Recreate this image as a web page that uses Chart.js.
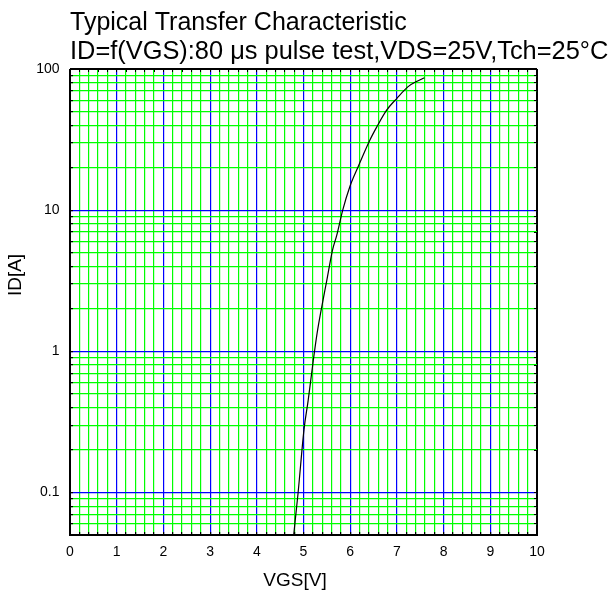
<!DOCTYPE html>
<html>
<head>
<meta charset="utf-8">
<script src="https://cdn.jsdelivr.net/npm/chart.js@4.4.1/dist/chart.umd.min.js"></script>
<style>
  body { margin: 0; background: #fff; }
  #box { width: 612px; height: 596px; }
</style>
</head>
<body>
<div id="box"><canvas id="grafico"></canvas></div>
<script>
// dados
const vgs = [4.79, 4.885, 5.01, 5.10, 5.21, 5.29, 5.39, 5.50, 5.62, 5.71, 5.84, 5.99, 6.17, 6.42, 6.57, 6.78, 7.00, 7.24, 7.42, 7.59];
const idA = [0.05, 0.1, 0.278, 0.449, 0.863, 1.335, 2.06, 3.19, 5.2, 6.6, 10.0, 14.6, 20.3, 31.3, 38.9, 51.1, 62, 75, 81.5, 86.6];

// textos
const titleLines = ['Typical Transfer Characteristic', 'ID=f(VGS):80 \u03bcs pulse test,VDS=25V,Tch=25\u00b0C'];
const xTitle = 'VGS[V]';
const yTitle = 'ID[A]';

// eixos
const xMin = 0, xMax = 10;
const xLabels = [0, 1, 2, 3, 4, 5, 6, 7, 8, 9, 10];
const yLabels = [0.1, 1, 10, 100];
const yDecadas = [0.01, 0.1, 1, 10];
const yMin = 0.05, yMax = 100;

// linhas da grade do eixo log
const yGrid = [];
for (const d of yDecadas) {
    for (let m = 1; m <= 9; m++) {
        const v = parseFloat((m * d).toPrecision(3));
        if (v >= yMin && v <= yMax) yGrid.push(v);
    }
}
yGrid.push(yMax);

const AZUL = 'rgb(0, 0, 255)';
const VERDE = 'rgb(0, 255, 0)';
const PRETO = '#000';
const FONTE = "'Liberation Sans', Arial, sans-serif";

function isInt(v) { return Math.abs(v - Math.round(v)) < 1e-6; }
function ehDecada(v) { return yLabels.some(d => Math.abs(v / d - 1) < 1e-6); }
function logTicks(scale) {
    scale.ticks = yGrid.map(v => ({ value: v, major: ehDecada(v) }));
}
function corX(c) {
    const v = c.tick.value;
    if (v <= xMin || v >= xMax) return PRETO;
    return isInt(v) ? AZUL : VERDE;
}
function corY(c) {
    const v = c.tick.value;
    if (v <= yMin || v >= yMax) return PRETO;
    return ehDecada(v) ? AZUL : VERDE;
}

// textos de titulo e eixos
const textos = {
    id: 'textos',
    afterDraw(chart) {
        const ctx = chart.ctx;
        const a = chart.chartArea;
        ctx.save();
        ctx.fillStyle = '#000';
        ctx.textBaseline = 'alphabetic';
        ctx.textAlign = 'left';
        ctx.font = '25px ' + FONTE;
        ctx.fillText(titleLines[0], a.left, a.top - 39);
        ctx.font = '25.4px ' + FONTE;
        ctx.fillText(titleLines[1], a.left, a.top - 10);
        ctx.font = '19px ' + FONTE;
        ctx.textAlign = 'center';
        ctx.textBaseline = 'middle';
        ctx.fillText(xTitle, a.left + 225, a.bottom + 46);
        ctx.translate(a.left - 54, a.top + 206);
        ctx.rotate(-Math.PI / 2);
        ctx.fillText(yTitle, 0, 0);
        ctx.restore();
    }
};

const dados = {
    datasets: [{
        data: vgs.map((v, i) => ({ x: v, y: idA[i] })),
        borderColor: '#000',
        borderWidth: 1.2,
        pointRadius: 0,
        cubicInterpolationMode: 'monotone',
        fill: false
    }]
};

const bordaPreta = { display: true, color: '#000', width: 1 };

const config = {
    type: 'line',
    data: dados,
    options: {
        responsive: true,
        maintainAspectRatio: false,
        animation: false,
        layout: { padding: { top: 69, right: 75, bottom: 0, left: 0 } },
        plugins: { legend: { display: false }, tooltip: { enabled: false }, title: { display: false } },
        scales: {
            x: {
                type: 'linear', position: 'bottom', min: xMin, max: xMax,
                afterFit: s => { s.height = 61; },
                border: bordaPreta,
                grid: { color: corX, tickColor: '#000', tickLength: -3, lineWidth: 1.2 },
                ticks: {
                    stepSize: 0.2, maxTicksLimit: 60, autoSkip: false, maxRotation: 0,
                    padding: 12, color: '#000', font: { family: FONTE, size: 14 },
                    callback: v => (isInt(v) && xLabels.includes(Math.round(v))) ? String(Math.round(v)) : ''
                }
            },
            x2: {
                type: 'linear', position: 'top', min: xMin, max: xMax,
                afterFit: s => { s.height = 0; },
                border: bordaPreta,
                grid: { drawOnChartArea: false, tickColor: '#000', tickLength: -3 },
                ticks: { stepSize: 0.2, maxTicksLimit: 60, autoSkip: false, display: false }
            },
            y: {
                type: 'logarithmic', position: 'left', min: yMin, max: yMax,
                afterFit: s => { s.width = 70; },
                afterBuildTicks: logTicks,
                border: bordaPreta,
                grid: { color: corY, tickColor: '#000', tickLength: -3, lineWidth: 1.2 },
                ticks: {
                    autoSkip: false, padding: 13.5, color: '#000', font: { family: FONTE, size: 14 },
                    callback: v => ehDecada(v) ? String(yLabels.find(d => Math.abs(v / d - 1) < 1e-6)) : ''
                }
            },
            y2: {
                type: 'logarithmic', position: 'right', min: yMin, max: yMax,
                afterFit: s => { s.width = 0; },
                afterBuildTicks: logTicks,
                border: bordaPreta,
                grid: { drawOnChartArea: false, tickColor: '#000', tickLength: -3 },
                ticks: { autoSkip: false, display: false }
            }
        }
    },
    plugins: [textos]
};

var myChart = new Chart(document.getElementById('grafico'), config);
</script>
</body>
</html>
